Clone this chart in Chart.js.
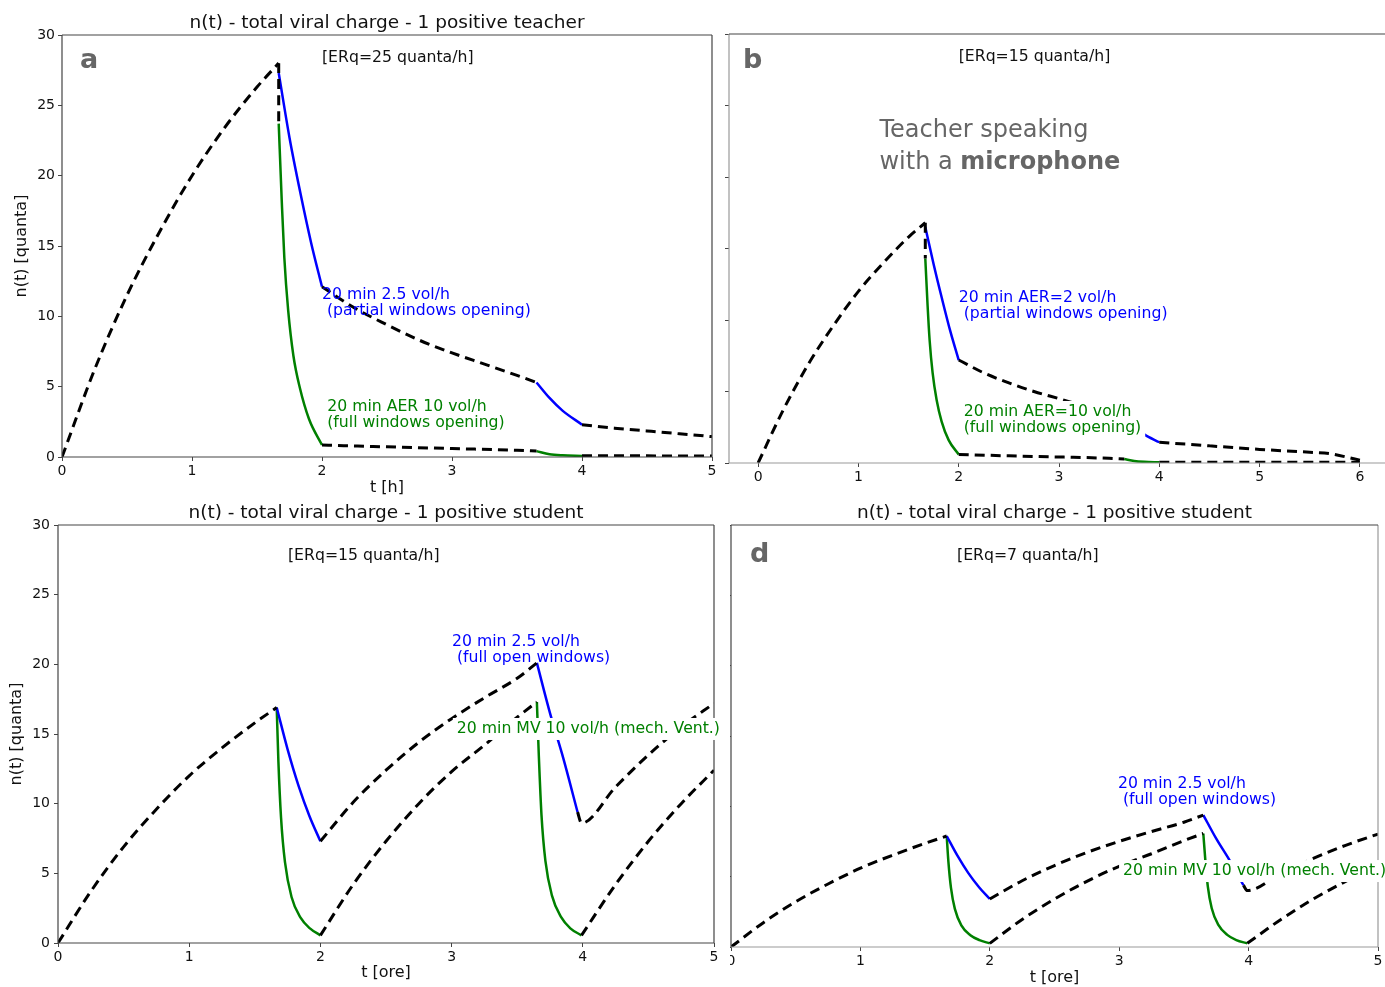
<!DOCTYPE html>
<html>
<head>
<meta charset="utf-8">
<script src="https://cdn.jsdelivr.net/npm/chart.js@4.4.1/dist/chart.umd.min.js"></script>
<style>
  body { margin: 0; width: 1385px; height: 987px; overflow: hidden; background: #fff; position: relative; }
  canvas { position: absolute; }
</style>
</head>
<body>
<canvas id="chartA" width="722" height="500" style="left:0px;top:0px"></canvas>
<canvas id="chartB" width="685" height="500" style="left:700px;top:0px"></canvas>
<canvas id="chartC" width="728" height="492" style="left:0px;top:495px"></canvas>
<canvas id="chartD" width="655" height="495" style="left:730px;top:495px"></canvas>
<script>
// ---- values (t in hours, n in quanta) ----

// a: teacher, ERq = 25
const aUpX = [0, 0.25, 0.5, 0.75, 1, 1.25, 1.5, 1.667, 1.8, 2, 2.25, 2.5, 2.75, 3, 3.25, 3.5, 3.65, 3.8, 4, 4.25, 4.5, 4.75, 5];
const aUpY = [0, 6.2, 11.5, 16.0, 20.0, 23.4, 26.3, 28.0, null, 12.1, 10.6, 9.4, 8.3, 7.4, 6.6, 5.8, 5.3, null, 2.3, 2.05, 1.85, 1.65, 1.45];
const aLoX = [1.667, 1.667, 1.8, 2, 2.5, 3, 3.5, 3.65, 3.8, 4, 4.5, 5];
const aLoY = [28.0, 23.7, null, 0.85, 0.72, 0.6, 0.48, 0.42, null, 0.08, 0.08, 0.07];
const aBlueX = [1.667, 1.75, 1.833, 1.917, 2, 2.5, 3.65, 3.75, 3.85, 4];
const aBlueY = [27.3, 22.7, 18.8, 15.2, 12.1, null, 5.3, 4.2, 3.3, 2.3];
const aGreenX = [1.667, 1.69, 1.71, 1.74, 1.78, 1.83, 1.9, 2, 2.5, 3.65, 3.75, 3.85, 4];
const aGreenY = [23.7, 18.3, 14.2, 10.4, 7.2, 4.9, 2.7, 0.85, null, 0.42, 0.2, 0.12, 0.08];

// b: teacher with microphone, ERq = 15
const bUpX = [0, 0.25, 0.5, 0.75, 1, 1.25, 1.5, 1.667, 1.8, 2, 2.25, 2.5, 2.75, 3, 3.25, 3.5, 3.65, 3.8, 4, 4.5, 5, 5.5, 5.7, 6];
const bUpY = [0, 3.7, 6.9, 9.6, 12.0, 14.0, 15.8, 16.8, null, 7.2, 6.3, 5.6, 5.0, 4.5, 4.0, 3.6, 3.3, null, 1.45, 1.2, 0.95, 0.75, 0.65, 0.2];
const bLoX = [1.667, 1.667, 1.8, 2, 2.5, 3, 3.5, 3.65, 3.8, 4, 5, 6];
const bLoY = [16.8, 14.3, null, 0.6, 0.5, 0.42, 0.33, 0.28, null, 0.05, 0.05, 0.05];
const bBlueX = [1.667, 1.75, 1.833, 1.917, 2, 2.5, 3.65, 3.75, 3.85, 4];
const bBlueY = [16.5, 13.9, 11.5, 9.2, 7.2, null, 3.3, 2.6, 2.0, 1.45];
const bGreenX = [1.667, 1.69, 1.71, 1.74, 1.78, 1.83, 1.9, 2, 2.5, 3.65, 3.75, 3.85, 4];
const bGreenY = [14.3, 11.0, 8.6, 6.3, 4.4, 2.9, 1.6, 0.6, null, 0.28, 0.14, 0.08, 0.05];

// c and d: student (same time grid)
const sUpX = [0, 0.25, 0.5, 0.75, 1, 1.25, 1.5, 1.667, 1.8, 2, 2.25, 2.5, 2.75, 3, 3.25, 3.5, 3.65, 3.8, 3.96, 3.99, 4.25, 4.5, 4.75, 5];
const sLoX = [2, 2.25, 2.5, 2.75, 3, 3.25, 3.5, 3.65, 3.8, 3.99, 4.25, 4.5, 4.75, 5];
const sBlueX = [1.667, 1.75, 1.833, 1.917, 2, 2.5, 3.65, 3.75, 3.85, 3.96];
const sGreenX = [1.667, 1.68, 1.70, 1.73, 1.78, 1.85, 1.92, 2, 2.5, 3.65, 3.665, 3.685, 3.715, 3.765, 3.835, 3.905, 3.99];

// c: ERq = 15
const cUpY = [0, 3.7, 6.9, 9.6, 12.0, 14.0, 15.8, 16.9, null, 7.3, 10.1, 12.4, 14.4, 16.1, 17.6, 19.0, 20.1, null, 9.4, 8.6, 11.2, 13.5, 15.5, 17.2];
const cLoY = [0.55, 4.2, 7.3, 10.0, 12.3, 14.2, 16.2, 17.3, null, 0.55, 4.2, 7.3, 10.0, 12.4];
const cBlueY = [16.9, 13.9, 11.3, 9.1, 7.3, null, 20.1, 16.5, 13.3, 9.4];
const cGreenY = [16.9, 13.0, 9.0, 5.8, 3.3, 1.8, 1.05, 0.55, null, 17.3, 13.4, 9.2, 5.9, 3.4, 1.85, 1.05, 0.55];

// d: ERq = 7
const dUpY = [0, 1.73, 3.22, 4.48, 5.6, 6.53, 7.37, 7.89, null, 3.41, 4.71, 5.79, 6.72, 7.51, 8.21, 8.87, 9.38, null, 4.39, 4.01, 5.23, 6.3, 7.23, 8.03];
const dLoY = [0.26, 1.96, 3.41, 4.67, 5.74, 6.63, 7.56, 8.07, null, 0.26, 1.96, 3.41, 4.67, 5.79];
const dBlueY = [7.89, 6.49, 5.27, 4.25, 3.41, null, 9.38, 7.7, 6.21, 4.39];
const dGreenY = [7.89, 6.07, 4.2, 2.71, 1.54, 0.84, 0.49, 0.26, null, 8.07, 6.25, 4.29, 2.75, 1.59, 0.86, 0.49, 0.26];

// tick labels
const yTicks = [0, 5, 10, 15, 20, 25, 30];
const xTicks5 = [0, 1, 2, 3, 4, 5];
const xTicks6 = [0, 1, 2, 3, 4, 5, 6];

const FONT = "'DejaVu Sans', sans-serif";
const BLUE = '#0000ff';
const GREEN = '#008000';
const DARK = '#444';
const LIGHT = '#999';
const NOTE = 15.7;

Chart.defaults.font.family = FONT;
Chart.defaults.color = '#111';

// spines around the plot area
const framePlugin = {
  id: 'frame',
  afterDatasetsDraw(chart, args, opts) {
    const { ctx, chartArea: a } = chart;
    const seg = {
      left: [a.left, a.top, a.left, a.bottom],
      right: [a.right, a.top, a.right, a.bottom],
      top: [a.left, a.top, a.right, a.top],
      bottom: [a.left, a.bottom, a.right, a.bottom]
    };
    ctx.save();
    ctx.lineWidth = 1.2;
    for (const side in opts.sides) {
      const s = seg[side];
      ctx.strokeStyle = opts.sides[side];
      ctx.beginPath();
      ctx.moveTo(s[0], s[1]);
      ctx.lineTo(s[2], s[3]);
      ctx.stroke();
    }
    ctx.restore();
  }
};

// title and text annotations
const notesPlugin = {
  id: 'notes',
  afterDatasetsDraw(chart, args, opts) {
    const { ctx, chartArea: a, scales } = chart;
    ctx.save();
    if (opts.title) {
      ctx.font = '18.5px ' + FONT;
      ctx.fillStyle = '#111';
      ctx.textAlign = 'center';
      ctx.textBaseline = 'middle';
      ctx.fillText(opts.title, (a.left + a.right) / 2, a.top - 12);
    }
    ctx.textAlign = 'left';
    ctx.textBaseline = 'middle';
    for (const n of opts.items) {
      const x = scales.x.getPixelForValue(n.x);
      const y = scales.y.getPixelForValue(n.y);
      const runsOf = line => (typeof line === 'string' ? [[line, n.bold]] : line);
      const fontOf = bold => (bold ? 'bold ' : '') + n.size + 'px ' + FONT;
      const widths = n.lines.map(line => runsOf(line).reduce((w, r) => {
        ctx.font = fontOf(r[1]);
        return w + ctx.measureText(r[0]).width;
      }, 0));
      if (n.box) {
        const w = Math.max(...widths);
        const h = n.lines.length * n.lh;
        ctx.fillStyle = '#fff';
        ctx.fillRect(x - 4, y - n.lh / 2 - 3, w + 8, h + 6);
      }
      ctx.fillStyle = n.color;
      n.lines.forEach((line, i) => {
        let cx = x;
        for (const r of runsOf(line)) {
          ctx.font = fontOf(r[1]);
          ctx.fillText(r[0], cx, y + i * n.lh);
          cx += ctx.measureText(r[0]).width;
        }
      });
    }
    ctx.restore();
  }
};

function pts(xs, ys) {
  return xs.map((x, i) => ({ x: x, y: ys[i] }));
}

function series(xs, ys, color, dashed, order) {
  return {
    data: pts(xs, ys),
    borderColor: color,
    borderWidth: dashed ? 3 : 2.5,
    borderDash: dashed ? [10, 6] : [],
    pointRadius: 0,
    cubicInterpolationMode: 'monotone',
    spanGaps: false,
    order: order
  };
}

function makePanel(id, p) {
  new Chart(document.getElementById(id), {
    type: 'line',
    data: {
      datasets: [
        series(p.upX, p.upY, '#000', true, 0),
        series(p.loX, p.loY, '#000', true, 1),
        series(p.blueX, p.blueY, BLUE, false, 2),
        series(p.greenX, p.greenY, GREEN, false, 3)
      ]
    },
    options: {
      responsive: false,
      animation: false,
      events: [],
      layout: { padding: p.pad },
      plugins: {
        legend: { display: false },
        tooltip: { enabled: false },
        frame: { sides: p.sides },
        notes: { title: p.title, items: p.notes }
      },
      scales: {
        x: {
          type: 'linear',
          min: p.xMin,
          max: p.xMax,
          afterBuildTicks: s => { s.ticks = p.xTicks.map(v => ({ value: v })); },
          afterFit: s => { s.height = p.xH; s.paddingLeft = 0; s.paddingRight = 0; },
          ticks: { font: { size: 14 }, color: '#111', padding: 2, maxRotation: 0, autoSkip: false },
          grid: { drawOnChartArea: false, drawTicks: true, tickLength: 4, color: DARK },
          border: { display: false },
          title: { display: !!p.xTitle, text: p.xTitle, font: { size: 16 }, color: '#111', padding: { top: 0, bottom: p.xTitlePad } }
        },
        y: {
          type: 'linear',
          min: 0,
          max: 30,
          afterBuildTicks: s => { s.ticks = yTicks.map(v => ({ value: v })); },
          afterFit: s => { s.width = p.yW; s.paddingTop = 0; s.paddingBottom = 0; },
          ticks: {
            font: { size: 14 }, color: '#111', padding: p.yTickPad,
            callback: v => (p.yLabels ? String(v) : '')
          },
          grid: { drawOnChartArea: false, drawTicks: true, tickLength: p.yTickLen, color: DARK },
          border: { display: false },
          title: { display: !!p.yTitle, text: p.yTitle, font: { size: 16 }, color: '#111', padding: { top: p.yTitlePad, bottom: 0 } }
        }
      }
    },
    plugins: [framePlugin, notesPlugin]
  });
}

const letter = (x, y, t) => ({ x: x, y: y, lines: [t], size: 27, lh: 30, bold: true, color: '#666' });

makePanel('chartA', {
  upX: aUpX, upY: aUpY, loX: aLoX, loY: aLoY,
  blueX: aBlueX, blueY: aBlueY, greenX: aGreenX, greenY: aGreenY,
  xMin: 0, xMax: 5, xTicks: xTicks5, xH: 43, xTitle: 't [h]', xTitlePad: 2.4,
  yW: 62, yLabels: true, yTickPad: 3, yTickLen: 4, yTitle: 'n(t) [quanta]', yTitlePad: 12.4,
  pad: { left: 0, right: 10, top: 35, bottom: 0 },
  sides: { left: DARK, right: DARK, top: DARK, bottom: DARK },
  title: 'n(t) - total viral charge - 1 positive teacher',
  notes: [
    letter(0.138, 28.15, 'a'),
    { x: 2.0, y: 28.36, lines: ['[ERq=25 quanta/h]'], size: NOTE, lh: 16, color: '#111' },
    { x: 2.0, y: 11.51, lines: ['20 min 2.5 vol/h', ' (partial windows opening)'], size: NOTE, lh: 16, color: BLUE },
    { x: 2.04, y: 3.55, lines: ['20 min AER 10 vol/h', '(full windows opening)'], size: NOTE, lh: 16, color: GREEN }
  ]
});

makePanel('chartB', {
  upX: bUpX, upY: bUpY, loX: bLoX, loY: bLoY,
  blueX: bBlueX, blueY: bBlueY, greenX: bGreenX, greenY: bGreenY,
  xMin: -0.29, xMax: 6.25, xTicks: xTicks6, xH: 37, xTitle: '', xTitlePad: 0,
  yW: 29, yLabels: false, yTickPad: 3, yTickLen: 4, yTitle: '', yTitlePad: 0,
  pad: { left: 0, right: 0, top: 34, bottom: 0 },
  sides: { left: LIGHT, top: DARK, bottom: LIGHT },
  title: '',
  notes: [
    letter(-0.15, 28.1, 'b'),
    { x: 2.0, y: 28.4, lines: ['[ERq=15 quanta/h]'], size: NOTE, lh: 16, color: '#111' },
    { x: 1.21, y: 23.2, lines: ['Teacher speaking', [['with a ', false], ['microphone', true]]], size: 24, lh: 32, color: '#666' },
    { x: 2.0, y: 11.54, lines: ['20 min AER=2 vol/h', ' (partial windows opening)'], size: NOTE, lh: 16, color: BLUE },
    { x: 2.05, y: 3.57, lines: ['20 min AER=10 vol/h', '(full windows opening)'], size: NOTE, lh: 16, color: GREEN, box: true }
  ]
});

makePanel('chartC', {
  upX: sUpX, upY: cUpY, loX: sLoX, loY: cLoY,
  blueX: sBlueX, blueY: cBlueY, greenX: sGreenX, greenY: cGreenY,
  xMin: 0, xMax: 5, xTicks: xTicks5, xH: 44, xTitle: 't [ore]', xTitlePad: 4.4,
  yW: 58, yLabels: true, yTickPad: 4, yTickLen: 4, yTitle: 'n(t) [quanta]', yTitlePad: 7.4,
  pad: { left: 0, right: 14, top: 30, bottom: 0 },
  sides: { left: DARK, right: DARK, top: DARK, bottom: DARK },
  title: 'n(t) - total viral charge - 1 positive student',
  notes: [
    { x: 1.753, y: 27.78, lines: ['[ERq=15 quanta/h]'], size: NOTE, lh: 16, color: '#111' },
    { x: 3.003, y: 21.6, lines: ['20 min 2.5 vol/h', ' (full open windows)'], size: NOTE, lh: 16, color: BLUE },
    { x: 3.04, y: 15.36, lines: ['20 min MV 10 vol/h (mech. Vent.)'], size: NOTE, lh: 16, color: GREEN, box: true }
  ]
});

makePanel('chartD', {
  upX: sUpX, upY: dUpY, loX: sLoX, loY: dLoY,
  blueX: sBlueX, blueY: dBlueY, greenX: sGreenX, greenY: dGreenY,
  xMin: 0, xMax: 5, xTicks: xTicks5, xH: 43, xTitle: 't [ore]', xTitlePad: 2.4,
  yW: 1, yLabels: false, yTickPad: 0, yTickLen: 3, yTitle: '', yTitlePad: 0,
  pad: { left: 0, right: 7, top: 30, bottom: 0 },
  sides: { left: DARK, right: LIGHT, top: DARK, bottom: LIGHT },
  title: 'n(t) - total viral charge - 1 positive student',
  notes: [
    letter(0.147, 27.86, 'd'),
    { x: 1.747, y: 27.79, lines: ['[ERq=7 quanta/h]'], size: NOTE, lh: 16, color: '#111' },
    { x: 2.99, y: 11.58, lines: ['20 min 2.5 vol/h', ' (full open windows)'], size: NOTE, lh: 16, color: BLUE },
    { x: 3.03, y: 5.40, lines: ['20 min MV 10 vol/h (mech. Vent.)'], size: NOTE, lh: 16, color: GREEN, box: true }
  ]
});
</script>
</body>
</html>
